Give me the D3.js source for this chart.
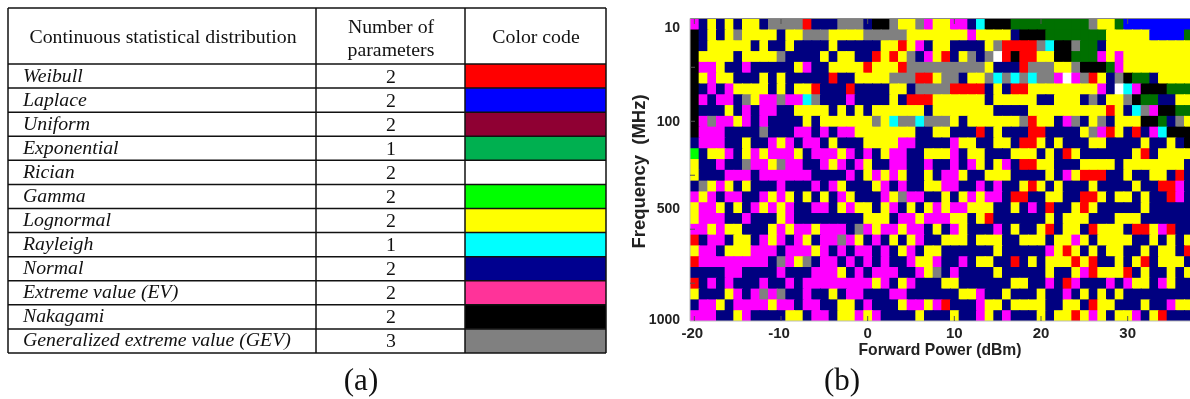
<!DOCTYPE html>
<html><head><meta charset="utf-8">
<script src="https://cdn.jsdelivr.net/npm/d3@7"></script>
<style>html,body{margin:0;padding:0;background:#fff;overflow:hidden}svg{display:block;filter:blur(0.45px)}</style>
</head><body><svg id="c" width="1190" height="399"></svg>
<script>
const distributions=["Weibull","Laplace","Uniform","Exponential","Rician","Gamma","Lognormal","Rayleigh","Normal","Extreme value (EV)","Nakagami","Generalized extreme value (GEV)"];
const parameterCounts=[2,2,2,1,2,2,2,1,2,2,2,3];
const colorCodes=["#ff0000","#0000ff","#8f0033","#00b050","#ffffff","#00ff00","#ffff00","#00ffff","#00008f","#ff3399","#000000","#808080"];
const powerTicks=[-20,-10,0,10,20,30];
const freqTickRows=[0.3,9,17,27.3];
const freqTickLabels=["10","100","500","1000"];
const freqMarkRows=[4,9,14,19,24];
const cellColors={Y:"#ffff00",N:"#000080",M:"#ff00ff",G:"#808080",R:"#ff0000",K:"#000000",C:"#00ffff",g:"#007000",B:"#0000ff",W:"#ffffff",L:"#00ff00"};
const rowCells=[
"MNYNYNYYNGGGGRNNNGGGNKKGYYGMY"+"YMMNCKKKgggggggggGYYgBBBBBBBB",
"KNYNYGYYYYNYYGGGYYYYGGGGGYYYY"+"YYYMYYYYNKKKgggggggYYYYYBBBBg",
"KNYYYYYNYNNYNNNNYNNNNNYYRYMNY"+"YNNNNYGRRRRGCKKGggNYYYYYYYYYY",
"KYYYYNYYYYGNNNNYNYYNNRYRYGNMY"+"RNYGNGWRKRRYYKKgggMYMYYYYYYYY",
"KMMYNNMNNNNNYMNNYYYYRYYYRGGGG"+"GGGGGYNNNRGGGYYGKKKgMYYYYYYYY",
"KYMYYNNNYNYNNNNNRNNYYYYGGGRRY"+"GGNYYGCGCGCGGMWMGRYNGKggNYYYY",
"KNMNMYYYYNYNYYRNNNRNNNNYYNGGG"+"GRRRRNYNRRYYYYYYYYMNWCMKKKggg",
"KMNMMNGYMMGMMCGNNNMNNNNYNRRRY"+"YYYYYNYYYYYNNYYYNGNYYGKggNNYY",
"KNNNYNMNMMNNYYYYNYNYNYYYYYYNY"+"YYYYYYNNNNYYYYYYYYYRYNCGMKKgg",
"KMGMMYMNMNNNNYNYYYYYYGYCGGCGG"+"GYNYYYYYYGRYYNMGNYGNYYYKKgNGY",
"KMMMNNNNGNNNMMNMNMMYYYYYYYNNY"+"YNNNRNYNNNRRNNNNYGMRYNRNMCKKK",
"NMMMNNYNNMYMNMMNYNNNYYYYMMNNN"+"NMYYNNYYNRRYNYNNNYYNNNNYNNYNK",
"LNYYMNYMYMMMYNMMMYMNMNYMMNNYY"+"YMNYYNNNYYYNYNRYNNNNNNYRNYYYY",
"YNNMNNGMMYGMMNNMYMNMYNNMMNNMN"+"NMNMYNYMNRRYYNNNYYYYNYYYYYYYN",
"YNNNMMMNMMMMMMNNNNMNYMYMYNNYN"+"MMYNNYYYNNNNYNMYRRRNNYNNYYNRN",
"NGYMYNYNNNMNNNMNMYNNNYMNMNNYY"+"MMNNMNMNNYRYNYNNNYNNNNYNNRRMN",
"MYMNMMNNMYMYNYNYNMYNNNMYGMMNN"+"YNYMYMMNRRNNYYNNRRYNYYNYNNRMN",
"YMMYNYNMYMYMNNMMNYMYYNYMNYNYM"+"YMMYYYNNYNMNRNNYRYNNNNNYNNNNN",
"YMMMNNMNNNYMNNNNNNNNYYYNMMYMM"+"MYYNYRNNNNNNYNYYYNNNYYYNNNNNN",
"MMYMYYNNNYMYMMYMMMNGMYMMYMMNY"+"NMYNNNMNYNNYRNYYNRYYYNRRYMRNN",
"RNMMNYYNMYMNMYNMMGMYNMNYNYMNN"+"YYYNYYYNNYYYNYYMYNYYYYNNYNYNY",
"YMMNYYYMMMNMMMYMNMNMMNMNYMNYY"+"NNNNNNYNNNNNMYRYNYNYYNNYNYYNR",
"RMMMMMMMMNGMYGNMMNMNMNMNNMYYM"+"NNMNYYNNRNYNYYYRYRNNYNYRNYYYN",
"NNNNMMNNNNMNNNMMMYNMNMMMNNMYG"+"NMNNNNYNNNNNYNNYMRYYYRNYNNYNY",
"RNMNMNNNMNNMNMMMMMMMMYMNYMNNN"+"YYNNNNNNYYNNMNRMNNNMNMYYNMYNN",
"YNNNYMNMGMGNNMNNYNMMNNNMMNNNN"+"NNYYMNNYNNNYNNMNYNYNYNNNNNNNN",
"NMMYNMMMMYMMNMMNNYYNMNNNYMMYM"+"RNNNMYYNYYYYNNYYNRYYNNNYNNMYY",
"MMMNNYMNNNNYYNMMNYYMYMNNNNYNN"+"NYNNMYNMNNNYNYYRYMYNYYMNYRNNN"
];
const svg=d3.select("#c");

/* ---------- table (a) ---------- */
const tX=[8,316,465,606], tTop=8, tHead=64, tBottom=353;
const rowY=d3.scaleLinear().domain([0,distributions.length]).range([tHead,tBottom]);
const tb=svg.append("g");
const serif="'Liberation Serif','Times New Roman',serif";
tb.selectAll("rect.sw").data(colorCodes).join("rect").attr("class","sw")
 .attr("x",tX[2]).attr("width",tX[3]-tX[2]).attr("y",(d,i)=>rowY(i)).attr("height",(d,i)=>rowY(i+1)-rowY(i)).attr("fill",d=>d);
tb.selectAll("line.h").data(d3.range(distributions.length+1)).join("line").attr("class","h")
 .attr("x1",tX[0]).attr("x2",tX[3]).attr("y1",i=>rowY(i)).attr("y2",i=>rowY(i)).attr("stroke","#111").attr("stroke-width",1.5);
tb.append("line").attr("x1",tX[0]).attr("x2",tX[3]).attr("y1",tTop).attr("y2",tTop).attr("stroke","#111").attr("stroke-width",1.5);
tb.selectAll("line.v").data(tX).join("line").attr("class","v")
 .attr("x1",d=>d).attr("x2",d=>d).attr("y1",tTop).attr("y2",tBottom).attr("stroke","#111").attr("stroke-width",1.5);
tb.selectAll("text.n").data(distributions).join("text").attr("class","n")
 .attr("x",23).attr("y",(d,i)=>(rowY(i)+rowY(i+1))/2+5.5).attr("font-family",serif).attr("font-style","italic").attr("font-size",19.8).attr("fill","#111").text(d=>d);
tb.selectAll("text.p").data(parameterCounts).join("text").attr("class","p")
 .attr("x",391).attr("text-anchor","middle").attr("y",(d,i)=>(rowY(i)+rowY(i+1))/2+6.5).attr("font-family",serif).attr("font-size",19.8).attr("fill","#111").text(d=>d);
const head=[["Continuous statistical distribution",163,43],["Number of",391,33],["parameters",391,56],["Color code",536,43]];
tb.selectAll("text.t").data(head).join("text").attr("class","t")
 .attr("x",d=>d[1]).attr("y",d=>d[2]).attr("text-anchor","middle").attr("font-family",serif).attr("font-size",19.8).attr("fill","#111").text(d=>d[0]);

/* ---------- captions ---------- */
svg.selectAll("text.cap").data([["(a)",361],["(b)",842]]).join("text").attr("class","cap")
 .attr("x",d=>d[1]).attr("y",390).attr("text-anchor","middle").attr("font-family",serif).attr("font-size",31).attr("fill","#111").text(d=>d[0]);

/* ---------- heat map (b) ---------- */
const nCols=rowCells[0].length,nRows=rowCells.length;
const x=d3.scaleLinear().domain([-20.5,-20.5+nCols]).range([690,690+nCols*8.667]);
const y=d3.scaleLinear().domain([-0.5,nRows-0.5]).range([18.7,321]);
const cells=[];
rowCells.forEach((s,r)=>s.split("").forEach((ch,c)=>cells.push({r,c,ch})));
const hm=svg.append("g");
hm.selectAll("rect").data(cells).join("rect")
 .attr("x",d=>x(d.c-20.5)).attr("width",d=>x(1)-x(0)+(d.c<nCols-1?1:0))
 .attr("y",d=>y(d.r-0.5)).attr("height",d=>y(1)-y(0)+(d.r<nRows-1?1:0))
 .attr("fill",d=>cellColors[d.ch]);
const sans="'Liberation Sans',Arial,sans-serif";
const axisC="#555";
const ax=svg.append("g");
ax.append("line").attr("x1",690).attr("x2",1190).attr("y1",18.5).attr("y2",18.5).attr("stroke","#888");
ax.append("line").attr("x1",690).attr("x2",1190).attr("y1",321).attr("y2",321).attr("stroke","#bbb");
ax.append("line").attr("x1",690).attr("x2",690).attr("y1",18.5).attr("y2",321).attr("stroke","#bbb");
ax.selectAll("line.xb").data(powerTicks).join("line").attr("class","xb").attr("x1",d=>x(d)).attr("x2",d=>x(d)).attr("y1",321).attr("y2",316).attr("stroke",axisC);
ax.selectAll("line.xt").data(powerTicks).join("line").attr("class","xt").attr("x1",d=>x(d)).attr("x2",d=>x(d)).attr("y1",19).attr("y2",24).attr("stroke",axisC);
ax.selectAll("line.yl").data(freqMarkRows).join("line").attr("class","yl").attr("x1",690).attr("x2",695).attr("y1",d=>y(d)).attr("y2",d=>y(d)).attr("stroke",axisC);
ax.selectAll("text.xl").data(powerTicks).join("text").attr("class","xl")
 .attr("x",d=>x(d)-(d<0?2:0)).attr("y",338).attr("text-anchor","middle").attr("font-family",sans).attr("font-weight","bold").attr("font-size",15).attr("fill","#222").text(d=>d);
ax.selectAll("text.yt").data(freqTickRows).join("text").attr("class","yt")
 .attr("x",680).attr("y",d=>y(d)+5).attr("text-anchor","end").attr("font-family",sans).attr("font-weight","bold").attr("font-size",14).attr("fill","#222").text((d,i)=>freqTickLabels[i]);
ax.append("text").attr("x",940).attr("y",355).attr("text-anchor","middle").attr("font-family",sans).attr("font-weight","bold").attr("font-size",15.7).attr("fill","#222").text("Forward Power (dBm)");
ax.append("text").attr("transform","translate(645,171.5) rotate(-90)").attr("text-anchor","middle").attr("font-family",sans).attr("font-weight","bold").attr("font-size",18.5).attr("style","white-space:pre").attr("fill","#222").text("Frequency  (MHz)");
</script></body></html>
